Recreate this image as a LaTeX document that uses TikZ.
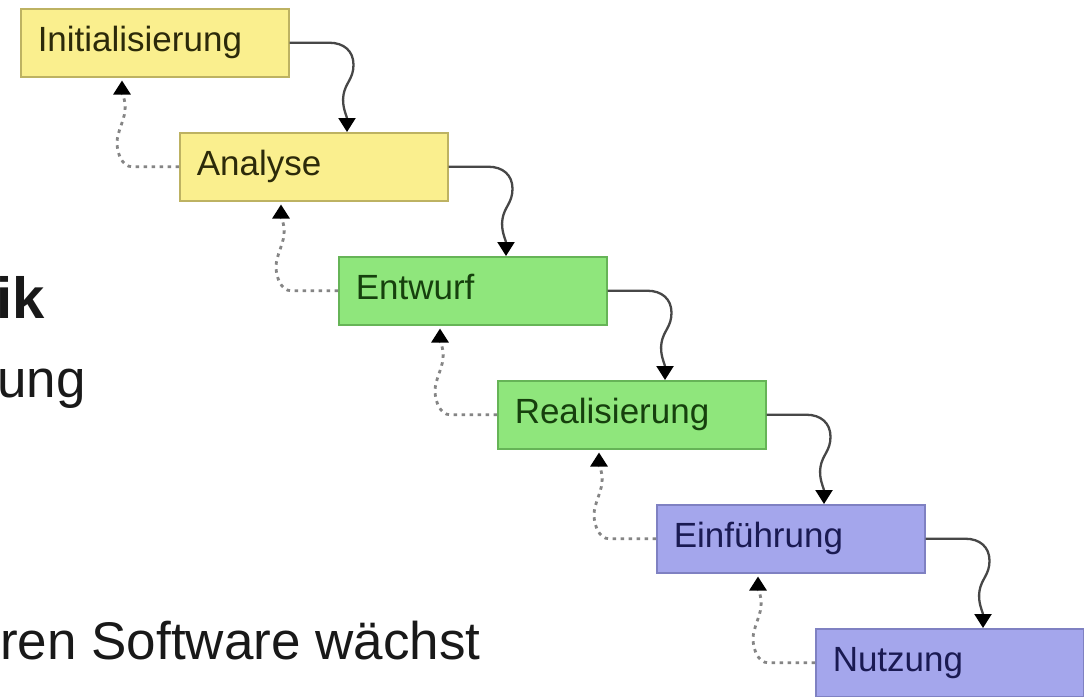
\documentclass[tikz,border=0pt]{standalone}
\usepackage{fontspec}
\setmainfont{Liberation Sans}
\usetikzlibrary{arrows.meta,calc}

\definecolor{phaseyellow}{HTML}{FAEF8E}
\definecolor{phasegreen}{HTML}{8FE67C}
\definecolor{phaseblue}{HTML}{A4A6EC}
\definecolor{edgeyellow}{HTML}{BDB262}
\definecolor{edgegreen}{HTML}{66B457}
\definecolor{edgeblue}{HTML}{7F81C2}
\definecolor{inkyellow}{HTML}{2C2A0A}
\definecolor{inkgreen}{HTML}{16400D}
\definecolor{inkblue}{HTML}{1A1A52}

\begin{document}
\begin{tikzpicture}[x=1pt,y=-1pt,
  phase/.style={rectangle, draw, line width=1.5pt, anchor=north west,
    minimum width=268pt, minimum height=68pt, text width=234pt,
    inner xsep=17pt, inner ysep=0pt, align=left,
    text height=25pt, text depth=7pt,
    font=\fontsize{35}{40}\selectfont},
  yellowphase/.style={phase, fill=phaseyellow, draw=edgeyellow, text=inkyellow},
  greenphase/.style={phase, fill=phasegreen, draw=edgegreen, text=inkgreen},
  bluephase/.style={phase, fill=phaseblue, draw=edgeblue, text=inkblue},
  flow/.style={line width=2.3pt, draw=black!72,
    -{Triangle[width=17pt,length=14pt,color=black]}},
  feedback/.style={line width=2.8pt, draw=black!48, dash pattern=on 3.5pt off 4.5pt,
    -{Triangle[width=17pt,length=14pt,color=black]}},
  slidetext/.style={anchor=base west, inner sep=0pt, text=black!90,
    font=\fontsize{53}{60}\selectfont}]

\clip (0,0) rectangle (1084,696);
\fill[white] (0,0) rectangle (1084,696);

% slide text, cut off at the left edge
\node[slidetext, font=\bfseries\fontsize{58}{64}\selectfont] (title) at (-4,318) {ik};
\node[slidetext] (lineA) at (-3,397) {ung};
\node[slidetext] (lineB) at (0,659) {ren Software wächst};

% the six phases of the waterfall
\node[yellowphase] (p1) at (20,8)    {Initialisierung};
\node[yellowphase] (p2) at (179,132) {Analyse};
\node[greenphase]  (p3) at (338,256) {Entwurf};
\node[greenphase]  (p4) at (497,380) {Realisierung};
\node[bluephase]   (p5) at (656,504) {Einführung};
\node[bluephase]   (p6) at (815,628) {Nutzung};

% forward flow and feedback loops between consecutive phases
\foreach \a/\b in {p1/p2,p2/p3,p3/p4,p4/p5,p5/p6}{
  \coordinate (\a-in) at ($(\b.north west)+(168,0)$);
  \draw[flow] (\a.east) -- ++(40,0)
    .. controls +(14,0) and +(0,-14) .. ++(24,22)
    .. controls +(0,14) and +(2,-12) .. ++(-10,30)
    .. controls +(-2,12) and +(0,-16) .. (\a-in);
  \coordinate (\b-back) at ($(\a.south west)+(102,3)$);
  \draw[feedback] (\b.west) -- ++(-47,0)
    .. controls +(-10,0) and +(0,10) .. ++(-15,-24)
    .. controls +(0,-10) and +(-1,10) .. ++(8,-32)
    .. controls +(1,-10) and +(0,12) .. (\b-back);
}
\end{tikzpicture}
\end{document}
